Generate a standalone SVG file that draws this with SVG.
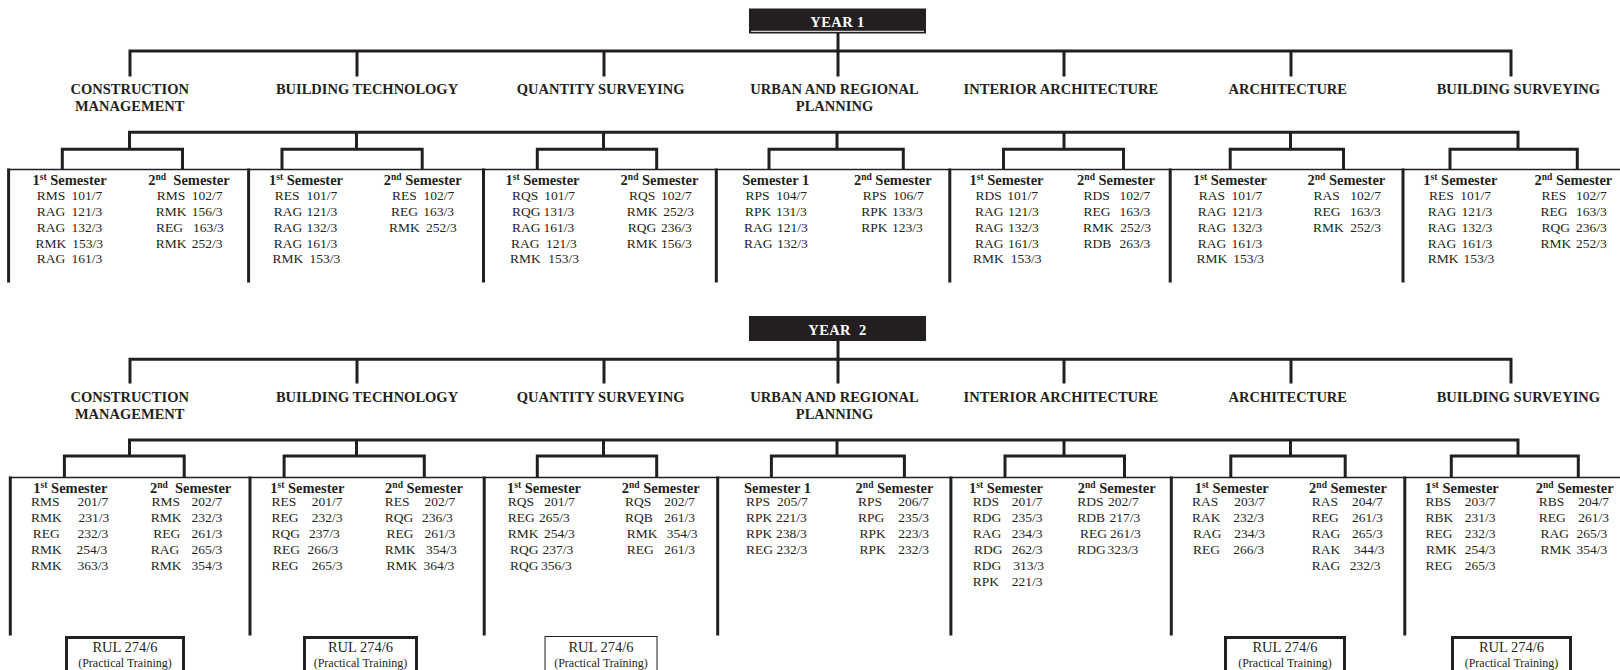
<svg xmlns="http://www.w3.org/2000/svg" width="1620" height="670" viewBox="0 0 1620 670">
<style>
.bg{fill:#fff}
.ln{fill:none;stroke:#231f20;stroke-width:3;stroke-linejoin:miter;stroke-linecap:square}
.th{fill:none;stroke:#231f20;stroke-width:1.3}
.yb{fill:#231f20}
.yt{font-family:"Liberation Serif",serif;font-weight:bold;font-size:14.5px;fill:#fff;text-anchor:middle}
.dp{font-family:"Liberation Serif",serif;font-weight:bold;font-size:14.5px;fill:#231f20;text-anchor:middle}
.sh{font-family:"Liberation Serif",serif;font-weight:bold;font-size:14.5px;fill:#231f20;text-anchor:middle}
.sup{font-size:9.5px}
.c{font-family:"Liberation Serif",serif;font-size:13.5px;fill:#231f20}
.rb{fill:#fff;stroke:#231f20;stroke-width:3}
.rbt{fill:#fff;stroke:#231f20;stroke-width:1}
.r1{font-family:"Liberation Serif",serif;font-size:14.5px;fill:#231f20;text-anchor:middle}
.r2{font-family:"Liberation Serif",serif;font-size:12px;fill:#231f20;text-anchor:middle}
</style>
<rect class="bg" x="0" y="0" width="1620" height="670"/>

<g id="connectors">
  <!-- Year 1 -->
  <path class="ln" d="M838,33V51"/>
  <path class="ln" d="M130,75V51H1511V75M357,51V75M604,51V75M838,51V75M1064,51V75M1291,51V75"/>
  <path class="ln" d="M129.5,148V132.3H1518V148M356.5,132.3V148M603.5,132.3V148M837,132.3V148M1064,132.3V148M1290.5,132.3V148"/>
  <path class="ln" d="M62.3,168V149.3H182.5V168M282,168V149.3H422.2V168M537.3,168V149.3H656.7V168M769,168V149.3H903.3V168M1003.5,168V149.3H1123.5V168M1230.2,168V149.3H1343.5V168M1450,168V149.3H1577.3V168"/>
  <path class="th" d="M7.5,169.5H1620"/>
  <path class="ln" d="M8.6,170V281M248.6,170V281M483.5,170V281M716.3,170V281M949.8,170V281M1170.2,170V281M1403,170V281"/>
  <!-- Year 2 -->
  <path class="ln" d="M838,341V359.3"/>
  <path class="ln" d="M130,382V359.3H1511V382M357,359.3V382M604,359.3V382M838,359.3V382M1064,359.3V382M1291,359.3V382"/>
  <path class="ln" d="M129.5,455V440H1518V455M356.5,440V455M603.5,440V455M837,440V455M1064,440V455M1290.5,440V455"/>
  <path class="ln" d="M64.4,476V456H184.2V476M284.1,476V456H424.3V476M537.3,476V456H656.7V476M771.4,476V456H904.4V476M1005,476V456H1124.5V476M1230.8,476V456H1345.2V476M1451.3,476V456H1578.3V476"/>
  <path class="th" d="M9,477.5H1620"/>
  <path class="ln" d="M10.3,478V634M250,478V634M484.2,478V634M717.7,478V634M950.9,478V634M1171.3,478V634M1404.8,478V634"/>
</g>

<!-- ===== YEAR 1 ===== -->
<g id="year1">
  <rect class="yb" x="749" y="8.5" width="177" height="25"/>
  <path d="M751,31.3H924" stroke="#fff" stroke-width="1"/>
  <text class="yt" x="837.5" y="26.5" letter-spacing="0.4">YEAR 1</text>
</g>

<g id="y1-cm"><text class="dp" x="129.7" y="94">CONSTRUCTION</text><text class="dp" x="129.7" y="111">MANAGEMENT</text></g>
<g id="y1-bt"><text class="dp" x="367" y="94">BUILDING TECHNOLOGY</text></g>
<g id="y1-qs"><text class="dp" x="600.6" y="94">QUANTITY SURVEYING</text></g>
<g id="y1-urp"><text class="dp" x="834.5" y="94">URBAN AND REGIONAL</text><text class="dp" x="834.5" y="111">PLANNING</text></g>
<g id="y1-ia"><text class="dp" x="1060.9" y="94">INTERIOR ARCHITECTURE</text></g>
<g id="y1-ar"><text class="dp" x="1287.8" y="94">ARCHITECTURE</text></g>
<g id="y1-bs"><text class="dp" x="1518.4" y="94">BUILDING SURVEYING</text></g>

<g id="y1-cm-s1">
  <text class="sh" x="69.6" y="184.5">1<tspan class="sup" dy="-5">st</tspan><tspan dy="5"> Semester</tspan></text>
  <text class="c" x="36.8" y="200">RMS<tspan x="71.6">101/7</tspan></text>
  <text class="c" x="36.8" y="216">RAG<tspan x="71.6">121/3</tspan></text>
  <text class="c" x="36.8" y="231.5">RAG<tspan x="71.6">132/3</tspan></text>
  <text class="c" x="35.5" y="247.5">RMK<tspan x="72.3">153/3</tspan></text>
  <text class="c" x="36.8" y="263">RAG<tspan x="71.6">161/3</tspan></text>
</g>
<g id="y1-cm-s2">
  <text class="sh" x="189" y="184.5" xml:space="preserve">2<tspan class="sup" dy="-5">nd</tspan><tspan dy="5">  Semester</tspan></text>
  <text class="c" x="156.7" y="200">RMS<tspan x="191.8">102/7</tspan></text>
  <text class="c" x="155.7" y="216">RMK<tspan x="191.8">156/3</tspan></text>
  <text class="c" x="156" y="231.5">REG<tspan x="192.9">163/3</tspan></text>
  <text class="c" x="155.7" y="247.5">RMK<tspan x="191.8">252/3</tspan></text>
</g>
<g id="y1-bt-s1">
  <text class="sh" x="306" y="184.5">1<tspan class="sup" dy="-5">st</tspan><tspan dy="5"> Semester</tspan></text>
  <text class="c" x="274.8" y="200">RES<tspan x="306.5">101/7</tspan></text>
  <text class="c" x="273.8" y="216">RAG<tspan x="306.5">121/3</tspan></text>
  <text class="c" x="273.8" y="231.5">RAG<tspan x="306.5">132/3</tspan></text>
  <text class="c" x="273.8" y="247.5">RAG<tspan x="306.5">161/3</tspan></text>
  <text class="c" x="272.4" y="263">RMK<tspan x="309.6">153/3</tspan></text>
</g>
<g id="y1-bt-s2">
  <text class="sh" x="422.7" y="184.5">2<tspan class="sup" dy="-5">nd</tspan><tspan dy="5"> Semester</tspan></text>
  <text class="c" x="392" y="200">RES<tspan x="423.6">102/7</tspan></text>
  <text class="c" x="391" y="216">REG<tspan x="423.3">163/3</tspan></text>
  <text class="c" x="389" y="231.5">RMK<tspan x="426">252/3</tspan></text>
</g>
<g id="y1-qs-s1">
  <text class="sh" x="542.5" y="184.5">1<tspan class="sup" dy="-5">st</tspan><tspan dy="5"> Semester</tspan></text>
  <text class="c" x="512" y="200">RQS<tspan x="544.3">101/7</tspan></text>
  <text class="c" x="512" y="216">RQG<tspan x="543.5">131/3</tspan></text>
  <text class="c" x="512" y="231.5">RAG<tspan x="543.5">161/3</tspan></text>
  <text class="c" x="511" y="247.5">RAG<tspan x="546">121/3</tspan></text>
  <text class="c" x="510" y="263">RMK<tspan x="548.3">153/3</tspan></text>
</g>
<g id="y1-qs-s2">
  <text class="sh" x="659.5" y="184.5">2<tspan class="sup" dy="-5">nd</tspan><tspan dy="5"> Semester</tspan></text>
  <text class="c" x="629" y="200">RQS<tspan x="661">102/7</tspan></text>
  <text class="c" x="626.7" y="216">RMK<tspan x="663.3">252/3</tspan></text>
  <text class="c" x="627.7" y="231.5">RQG<tspan x="661">236/3</tspan></text>
  <text class="c" x="626.7" y="247.5">RMK<tspan x="661">156/3</tspan></text>
</g>
<g id="y1-urp-s1">
  <text class="sh" x="775.8" y="184.5">Semester 1</text>
  <text class="c" x="745.6" y="200">RPS<tspan x="776.3">104/7</tspan></text>
  <text class="c" x="745" y="216">RPK<tspan x="776">131/3</tspan></text>
  <text class="c" x="743.9" y="231.5">RAG<tspan x="777">121/3</tspan></text>
  <text class="c" x="743.9" y="247.5">RAG<tspan x="777">132/3</tspan></text>
</g>
<g id="y1-urp-s2">
  <text class="sh" x="892.8" y="184.5">2<tspan class="sup" dy="-5">nd</tspan><tspan dy="5"> Semester</tspan></text>
  <text class="c" x="862.7" y="200">RPS<tspan x="893">106/7</tspan></text>
  <text class="c" x="861.3" y="216">RPK<tspan x="892">133/3</tspan></text>
  <text class="c" x="861.3" y="231.5">RPK<tspan x="892">123/3</tspan></text>
</g>
<g id="y1-ia-s1">
  <text class="sh" x="1006.5" y="184.5">1<tspan class="sup" dy="-5">st</tspan><tspan dy="5"> Semester</tspan></text>
  <text class="c" x="975.6" y="200">RDS<tspan x="1007.3">101/7</tspan></text>
  <text class="c" x="975" y="216">RAG<tspan x="1008">121/3</tspan></text>
  <text class="c" x="975" y="231.5">RAG<tspan x="1008">132/3</tspan></text>
  <text class="c" x="975" y="247.5">RAG<tspan x="1008">161/3</tspan></text>
  <text class="c" x="972.9" y="263">RMK<tspan x="1010.8">153/3</tspan></text>
</g>
<g id="y1-ia-s2">
  <text class="sh" x="1116" y="184.5">2<tspan class="sup" dy="-5">nd</tspan><tspan dy="5"> Semester</tspan></text>
  <text class="c" x="1083.4" y="200">RDS<tspan x="1119.6">102/7</tspan></text>
  <text class="c" x="1083.4" y="216">REG<tspan x="1119.6">163/3</tspan></text>
  <text class="c" x="1083" y="231.5">RMK<tspan x="1120.3">252/3</tspan></text>
  <text class="c" x="1083.4" y="247.5">RDB<tspan x="1119.6">263/3</tspan></text>
</g>
<g id="y1-ar-s1">
  <text class="sh" x="1230" y="184.5">1<tspan class="sup" dy="-5">st</tspan><tspan dy="5"> Semester</tspan></text>
  <text class="c" x="1198.8" y="200">RAS<tspan x="1231.5">101/7</tspan></text>
  <text class="c" x="1197.8" y="216">RAG<tspan x="1231.5">121/3</tspan></text>
  <text class="c" x="1197.8" y="231.5">RAG<tspan x="1231.5">132/3</tspan></text>
  <text class="c" x="1197.8" y="247.5">RAG<tspan x="1231.5">161/3</tspan></text>
  <text class="c" x="1196.4" y="263">RMK<tspan x="1233.3">153/3</tspan></text>
</g>
<g id="y1-ar-s2">
  <text class="sh" x="1346.4" y="184.5">2<tspan class="sup" dy="-5">nd</tspan><tspan dy="5"> Semester</tspan></text>
  <text class="c" x="1313.5" y="200">RAS<tspan x="1350.3">102/7</tspan></text>
  <text class="c" x="1313.5" y="216">REG<tspan x="1350">163/3</tspan></text>
  <text class="c" x="1313" y="231.5">RMK<tspan x="1350.3">252/3</tspan></text>
</g>
<g id="y1-bs-s1">
  <text class="sh" x="1460.4" y="184.5">1<tspan class="sup" dy="-5">st</tspan><tspan dy="5"> Semester</tspan></text>
  <text class="c" x="1428.9" y="200">RES<tspan x="1460.2">101/7</tspan></text>
  <text class="c" x="1427.8" y="216">RAG<tspan x="1461.6">121/3</tspan></text>
  <text class="c" x="1427.8" y="231.5">RAG<tspan x="1461.6">132/3</tspan></text>
  <text class="c" x="1427.8" y="247.5">RAG<tspan x="1461.6">161/3</tspan></text>
  <text class="c" x="1427.8" y="263">RMK<tspan x="1463.5">153/3</tspan></text>
</g>
<g id="y1-bs-s2">
  <text class="sh" x="1573.4" y="184.5">2<tspan class="sup" dy="-5">nd</tspan><tspan dy="5"> Semester</tspan></text>
  <text class="c" x="1541.5" y="200">RES<tspan x="1575.9">102/7</tspan></text>
  <text class="c" x="1540.4" y="216">REG<tspan x="1575.9">163/3</tspan></text>
  <text class="c" x="1541.5" y="231.5">RQG<tspan x="1575.9">236/3</tspan></text>
  <text class="c" x="1540.4" y="247.5">RMK<tspan x="1575.9">252/3</tspan></text>
</g>

<!-- ===== YEAR 2 ===== -->
<g id="year2">
  <rect class="yb" x="749" y="316" width="177" height="25"/>
  <text class="yt" x="837.5" y="334.5" xml:space="preserve" letter-spacing="0.4">YEAR  2</text>
</g>

<g id="y2-cm"><text class="dp" x="129.7" y="401.5">CONSTRUCTION</text><text class="dp" x="129.7" y="418.5">MANAGEMENT</text></g>
<g id="y2-bt"><text class="dp" x="367" y="401.5">BUILDING TECHNOLOGY</text></g>
<g id="y2-qs"><text class="dp" x="600.6" y="401.5">QUANTITY SURVEYING</text></g>
<g id="y2-urp"><text class="dp" x="834.5" y="401.5">URBAN AND REGIONAL</text><text class="dp" x="834.5" y="418.5">PLANNING</text></g>
<g id="y2-ia"><text class="dp" x="1060.9" y="401.5">INTERIOR ARCHITECTURE</text></g>
<g id="y2-ar"><text class="dp" x="1287.8" y="401.5">ARCHITECTURE</text></g>
<g id="y2-bs"><text class="dp" x="1518.4" y="401.5">BUILDING SURVEYING</text></g>

<g id="y2-cm-s1">
  <text class="sh" x="70.4" y="493">1<tspan class="sup" dy="-5">st</tspan><tspan dy="5"> Semester</tspan></text>
  <text class="c" x="31" y="506">RMS<tspan x="77.5">201/7</tspan></text>
  <text class="c" x="31" y="522">RMK<tspan x="78.5">231/3</tspan></text>
  <text class="c" x="32.7" y="538">REG<tspan x="77.5">232/3</tspan></text>
  <text class="c" x="31" y="554">RMK<tspan x="76.5">254/3</tspan></text>
  <text class="c" x="31" y="570">RMK<tspan x="77.5">363/3</tspan></text>
</g>
<g id="y2-cm-s2">
  <text class="sh" x="190.6" y="493" xml:space="preserve">2<tspan class="sup" dy="-5">nd</tspan><tspan dy="5">  Semester</tspan></text>
  <text class="c" x="151.5" y="506">RMS<tspan x="191.5">202/7</tspan></text>
  <text class="c" x="150.8" y="522">RMK<tspan x="191.5">232/3</tspan></text>
  <text class="c" x="153.3" y="538">REG<tspan x="191.5">261/3</tspan></text>
  <text class="c" x="150.8" y="554">RAG<tspan x="191.5">265/3</tspan></text>
  <text class="c" x="150.8" y="570">RMK<tspan x="191.5">354/3</tspan></text>
</g>
<g id="y2-bt-s1">
  <text class="sh" x="307.3" y="493">1<tspan class="sup" dy="-5">st</tspan><tspan dy="5"> Semester</tspan></text>
  <text class="c" x="271.4" y="506">RES<tspan x="311.7">201/7</tspan></text>
  <text class="c" x="271.4" y="522">REG<tspan x="311.7">232/3</tspan></text>
  <text class="c" x="271.4" y="538">RQG<tspan x="308.9">237/3</tspan></text>
  <text class="c" x="273" y="554">REG<tspan x="307.5">266/3</tspan></text>
  <text class="c" x="271.4" y="570">REG<tspan x="311.7">265/3</tspan></text>
</g>
<g id="y2-bt-s2">
  <text class="sh" x="424" y="493">2<tspan class="sup" dy="-5">nd</tspan><tspan dy="5"> Semester</tspan></text>
  <text class="c" x="384.7" y="506">RES<tspan x="424.6">202/7</tspan></text>
  <text class="c" x="384.7" y="522">RQG<tspan x="421.9">236/3</tspan></text>
  <text class="c" x="386.4" y="538">REG<tspan x="424.6">261/3</tspan></text>
  <text class="c" x="384.7" y="554">RMK<tspan x="426">354/3</tspan></text>
  <text class="c" x="386.4" y="570">RMK<tspan x="423.6">364/3</tspan></text>
</g>
<g id="y2-qs-s1">
  <text class="sh" x="544" y="493">1<tspan class="sup" dy="-5">st</tspan><tspan dy="5"> Semester</tspan></text>
  <text class="c" x="507.7" y="506">RQS<tspan x="544.3">201/7</tspan></text>
  <text class="c" x="507.7" y="522">REG<tspan x="539">265/3</tspan></text>
  <text class="c" x="507.7" y="538">RMK<tspan x="544">254/3</tspan></text>
  <text class="c" x="510" y="554">RQG<tspan x="542.5">237/3</tspan></text>
  <text class="c" x="510" y="570">RQG<tspan x="541">356/3</tspan></text>
</g>
<g id="y2-qs-s2">
  <text class="sh" x="660.7" y="493">2<tspan class="sup" dy="-5">nd</tspan><tspan dy="5"> Semester</tspan></text>
  <text class="c" x="625" y="506">RQS<tspan x="664.3">202/7</tspan></text>
  <text class="c" x="625" y="522">RQB<tspan x="664.3">261/3</tspan></text>
  <text class="c" x="626.7" y="538">RMK<tspan x="666.7">354/3</tspan></text>
  <text class="c" x="626.7" y="554">REG<tspan x="664.3">261/3</tspan></text>
</g>
<g id="y2-urp-s1">
  <text class="sh" x="777.5" y="493">Semester 1</text>
  <text class="c" x="746" y="506">RPS<tspan x="777">205/7</tspan></text>
  <text class="c" x="746" y="522">RPK<tspan x="776">221/3</tspan></text>
  <text class="c" x="746" y="538">RPK<tspan x="776">238/3</tspan></text>
  <text class="c" x="746" y="554">REG<tspan x="776.5">232/3</tspan></text>
</g>
<g id="y2-urp-s2">
  <text class="sh" x="894.5" y="493">2<tspan class="sup" dy="-5">nd</tspan><tspan dy="5"> Semester</tspan></text>
  <text class="c" x="857.9" y="506">RPS<tspan x="898.2">206/7</tspan></text>
  <text class="c" x="857.9" y="522">RPG<tspan x="898.2">235/3</tspan></text>
  <text class="c" x="859.6" y="538">RPK<tspan x="898.2">223/3</tspan></text>
  <text class="c" x="859.6" y="554">RPK<tspan x="898.2">232/3</tspan></text>
</g>
<g id="y2-ia-s1">
  <text class="sh" x="1006" y="493">1<tspan class="sup" dy="-5">st</tspan><tspan dy="5"> Semester</tspan></text>
  <text class="c" x="972.7" y="506">RDS<tspan x="1011.7">201/7</tspan></text>
  <text class="c" x="972.7" y="522">RDG<tspan x="1011.7">235/3</tspan></text>
  <text class="c" x="972.7" y="538">RAG<tspan x="1011.7">234/3</tspan></text>
  <text class="c" x="974" y="554">RDG<tspan x="1011.7">262/3</tspan></text>
  <text class="c" x="972.7" y="570">RDG<tspan x="1013.3">313/3</tspan></text>
  <text class="c" x="972.7" y="586">RPK<tspan x="1011.7">221/3</tspan></text>
</g>
<g id="y2-ia-s2">
  <text class="sh" x="1116.7" y="493">2<tspan class="sup" dy="-5">nd</tspan><tspan dy="5"> Semester</tspan></text>
  <text class="c" x="1077.3" y="506">RDS<tspan x="1108">202/7</tspan></text>
  <text class="c" x="1077.3" y="522">RDB<tspan x="1109.5">217/3</tspan></text>
  <text class="c" x="1080" y="538">REG<tspan x="1110">261/3</tspan></text>
  <text class="c" x="1077.3" y="554">RDG<tspan x="1107.5">323/3</tspan></text>
</g>
<g id="y2-ar-s1">
  <text class="sh" x="1231.7" y="493">1<tspan class="sup" dy="-5">st</tspan><tspan dy="5"> Semester</tspan></text>
  <text class="c" x="1192" y="506">RAS<tspan x="1234.3">203/7</tspan></text>
  <text class="c" x="1192" y="522">RAK<tspan x="1233.3">232/3</tspan></text>
  <text class="c" x="1193" y="538">RAG<tspan x="1234.3">234/3</tspan></text>
  <text class="c" x="1193" y="554">REG<tspan x="1233.3">266/3</tspan></text>
</g>
<g id="y2-ar-s2">
  <text class="sh" x="1348" y="493">2<tspan class="sup" dy="-5">nd</tspan><tspan dy="5"> Semester</tspan></text>
  <text class="c" x="1311.8" y="506">RAS<tspan x="1352">204/7</tspan></text>
  <text class="c" x="1311.8" y="522">REG<tspan x="1352">261/3</tspan></text>
  <text class="c" x="1311.8" y="538">RAG<tspan x="1352">265/3</tspan></text>
  <text class="c" x="1311.8" y="554">RAK<tspan x="1353.8">344/3</tspan></text>
  <text class="c" x="1311.8" y="570">RAG<tspan x="1349.7">232/3</tspan></text>
</g>
<g id="y2-bs-s1">
  <text class="sh" x="1461.7" y="493">1<tspan class="sup" dy="-5">st</tspan><tspan dy="5"> Semester</tspan></text>
  <text class="c" x="1425.4" y="506">RBS<tspan x="1464.7">203/7</tspan></text>
  <text class="c" x="1425.4" y="522">RBK<tspan x="1464.7">231/3</tspan></text>
  <text class="c" x="1425.4" y="538">REG<tspan x="1464.7">232/3</tspan></text>
  <text class="c" x="1426" y="554">RMK<tspan x="1464.7">254/3</tspan></text>
  <text class="c" x="1425.4" y="570">REG<tspan x="1464.7">265/3</tspan></text>
</g>
<g id="y2-bs-s2">
  <text class="sh" x="1574.7" y="493">2<tspan class="sup" dy="-5">nd</tspan><tspan dy="5"> Semester</tspan></text>
  <text class="c" x="1538.7" y="506">RBS<tspan x="1578.3">204/7</tspan></text>
  <text class="c" x="1538.7" y="522">REG<tspan x="1578.3">261/3</tspan></text>
  <text class="c" x="1540.4" y="538">RAG<tspan x="1576.6">265/3</tspan></text>
  <text class="c" x="1540.4" y="554">RMK<tspan x="1576.6">354/3</tspan></text>
</g>

<g id="rul-cm"><rect class="rb" x="66.5" y="637.5" width="117" height="40"/><text class="r1" x="125" y="652">RUL 274/6</text><text class="r2" x="125" y="666.5">(Practical Training)</text></g>
<g id="rul-bt"><rect class="rb" x="304.5" y="637.5" width="112" height="40"/><text class="r1" x="360.5" y="652">RUL 274/6</text><text class="r2" x="360.5" y="666.5">(Practical Training)</text></g>
<g id="rul-qs"><rect class="rbt" x="545" y="636.5" width="112" height="40"/><text class="r1" x="601" y="652">RUL 274/6</text><text class="r2" x="601" y="666.5">(Practical Training)</text></g>
<g id="rul-ar"><rect class="rb" x="1225.5" y="637.5" width="119" height="40"/><text class="r1" x="1285" y="652">RUL 274/6</text><text class="r2" x="1285" y="666.5">(Practical Training)</text></g>
<g id="rul-bs"><rect class="rb" x="1452.5" y="637.5" width="118" height="40"/><text class="r1" x="1511.5" y="652">RUL 274/6</text><text class="r2" x="1511.5" y="666.5">(Practical Training)</text></g>
</svg>
